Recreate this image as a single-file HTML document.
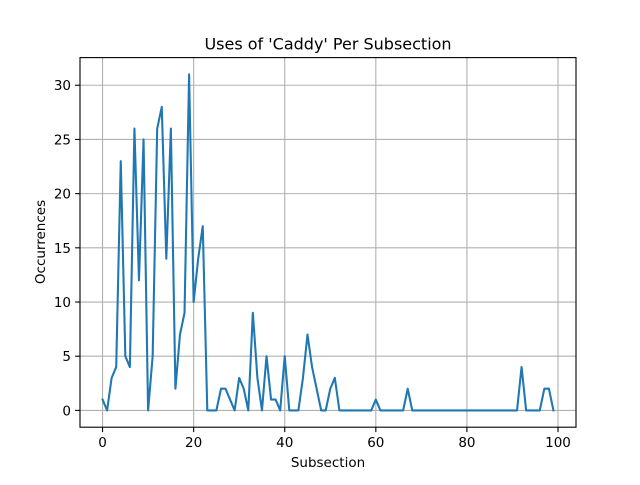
<!DOCTYPE html>
<html><head><meta charset="utf-8"><style>
body{margin:0;background:#fff;}
svg text{font-family:"DejaVu Sans","Liberation Sans",sans-serif;fill:#000;}
</style></head><body>
<svg id="chart" width="640" height="480" viewBox="0 0 640 480">
<rect x="0" y="0" width="640" height="480" fill="#fff"/>
<g id="grid"></g>
<g id="ticks"></g>
<path id="line" fill="none" stroke="#1f77b4" stroke-width="2.08" stroke-linejoin="round" stroke-linecap="square"/>
<rect x="80" y="57.6" width="496" height="369.6" fill="none" stroke="#000" stroke-width="1.1"/>
<text x="328" y="49.5" text-anchor="middle" font-size="16">Uses of 'Caddy' Per Subsection</text>
<text x="328" y="467" text-anchor="middle" font-size="13.5">Subsection</text>
<text x="45" y="242" text-anchor="middle" font-size="13.5" transform="rotate(-90 45 242)">Occurrences</text>
</svg>
<script>
const values=[1,0,3,4,23,5,4,26,12,25,0,5,26,28,14,26,2,7,9,31,10,14,17,0,0,0,2,2,1,0,3,2,0,9,3,0,5,1,1,0,5,0,0,0,3,7,4,2,0,0,2,3,0,0,0,0,0,0,0,0,1,0,0,0,0,0,0,2,0,0,0,0,0,0,0,0,0,0,0,0,0,0,0,0,0,0,0,0,0,0,0,0,4,0,0,0,0,2,2,0];
const xTicks=[0,20,40,60,80,100];
const yTicks=[0,5,10,15,20,25,30];
const L=80,R=576,T=57.6,B=427.2;
const xmin=-4.95,xmax=103.95,ymin=-1.55,ymax=32.55;
const xs=v=>L+(v-xmin)/(xmax-xmin)*(R-L);
const ys=v=>B-(v-ymin)/(ymax-ymin)*(B-T);
const NS="http://www.w3.org/2000/svg";
const grid=document.getElementById('grid'),ticks=document.getElementById('ticks');
function mk(tag,attrs,parent){const e=document.createElementNS(NS,tag);for(const k in attrs)e.setAttribute(k,attrs[k]);parent.appendChild(e);return e;}
xTicks.forEach(t=>{const x=xs(t);
 const g=mk('line',{x1:x,x2:x,y1:T,y2:B,stroke:'#b0b0b0','stroke-width':1.1},grid);
 
 
 const tk=mk('line',{x1:x,x2:x,y1:B,y2:B+4.9,stroke:'#000','stroke-width':1.1},ticks);
 
 
 const tx=mk('text',{x:x,y:B+20,'text-anchor':'middle','font-size':13.5},ticks);tx.textContent=t;
 
 
});
yTicks.forEach(t=>{const y=ys(t);
 const g=mk('line',{x1:L,x2:R,y1:y,y2:y,stroke:'#b0b0b0','stroke-width':1.1},grid);
 
 
 const tk=mk('line',{x1:L-4.9,x2:L,y1:y,y2:y,stroke:'#000','stroke-width':1.1},ticks);
 
 
 const tx=mk('text',{x:L-9,y:y+5,'text-anchor':'end','font-size':13.5},ticks);tx.textContent=t;
 
 
});
document.getElementById('line').setAttribute('d',values.map((v,i)=>(i?'L':'M')+xs(i).toFixed(2)+','+ys(v).toFixed(2)).join(''));
</script>
</body></html>
